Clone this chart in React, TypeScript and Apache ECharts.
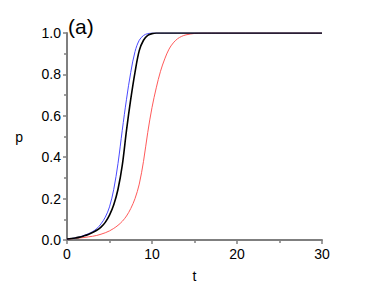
import React, { useEffect, useRef } from "react";
import * as echarts from "echarts";

const tGrid = [0, 0.5, 1, 1.5, 2, 2.5, 3, 3.5, 4, 4.5, 5, 5.5, 6, 6.5, 7, 7.5, 8, 8.5, 9, 9.5, 10, 10.5, 11, 11.5, 12, 12.5, 13, 13.5, 14, 14.5, 15, 15.5, 16, 17, 18, 20, 22, 25, 28, 30];

const pBlack = [0.005, 0.007, 0.01, 0.014, 0.02, 0.027, 0.036, 0.047, 0.062, 0.085, 0.12, 0.17, 0.245, 0.36, 0.53, 0.68, 0.81, 0.915, 0.965, 0.988, 0.997, 1, 1, 1, 1, 1, 1, 1, 1, 1, 1, 1, 1, 1, 1, 1, 1, 1, 1, 1];

const pBlue = [0.005, 0.007, 0.01, 0.015, 0.022, 0.03, 0.04, 0.055, 0.078, 0.11, 0.16, 0.245, 0.37, 0.53, 0.68, 0.81, 0.91, 0.965, 0.988, 0.997, 1, 1, 1, 1, 1, 1, 1, 1, 1, 1, 1, 1, 1, 1, 1, 1, 1, 1, 1, 1];

const pRed = [0.005, 0.006, 0.008, 0.01, 0.012, 0.015, 0.018, 0.022, 0.028, 0.035, 0.044, 0.056, 0.071, 0.09, 0.116, 0.152, 0.2, 0.27, 0.38, 0.52, 0.64, 0.735, 0.815, 0.875, 0.922, 0.952, 0.972, 0.984, 0.991, 0.995, 0.998, 0.999, 1, 1, 1, 1, 1, 1, 1, 1];

const yTickLabels = ["0.0", "0.2", "0.4", "0.6", "0.8", "1.0"];

const pairs = (ts: number[], ps: number[]) => ts.map((t, i) => [t, ps[i]]);

const FONT = "Liberation Sans, Arial, sans-serif";
const AXIS_COLOR = "#7f7f7f";

export default function App() {
  const ref = useRef<HTMLDivElement>(null);
  useEffect(() => {
    if (!ref.current) return;
    const chart = echarts.init(ref.current, undefined, { renderer: "svg" });
    chart.setOption({
      animation: false,
      backgroundColor: "#ffffff",
      grid: { left: 67, top: 33, width: 255, height: 207, containLabel: false },
      graphic: [
        {
          type: "text",
          left: 68,
          top: 16,
          style: { text: "(a)", fontSize: 21, fontFamily: FONT, fill: "#000" },
        },
      ],
      xAxis: {
        type: "value",
        min: 0,
        max: 30,
        interval: 10,
        name: "t",
        nameLocation: "middle",
        nameGap: 29,
        nameTextStyle: { fontSize: 14, fontFamily: FONT, color: "#000" },
        axisLine: { show: true, lineStyle: { color: AXIS_COLOR, width: 2 } },
        axisTick: { show: true, inside: false, length: 4, lineStyle: { color: AXIS_COLOR, width: 1.5 } },
        minorTick: { show: true, splitNumber: 2, length: 3, lineStyle: { color: AXIS_COLOR, width: 1.5 } },
        splitLine: { show: false },
        axisLabel: { fontSize: 14, fontFamily: FONT, color: "#000", margin: 7 },
      },
      yAxis: {
        type: "value",
        min: 0,
        max: 1,
        interval: 0.2,
        name: "p",
        nameLocation: "middle",
        nameGap: 44,
        nameRotate: 0,
        nameTextStyle: { fontSize: 14, fontFamily: FONT, color: "#000" },
        axisLine: { show: true, lineStyle: { color: AXIS_COLOR, width: 2 } },
        axisTick: { show: true, inside: false, length: 4, lineStyle: { color: AXIS_COLOR, width: 1.5 } },
        minorTick: { show: true, splitNumber: 2, length: 3, lineStyle: { color: AXIS_COLOR, width: 1.5 } },
        splitLine: { show: false },
        axisLabel: {
          fontSize: 14,
          fontFamily: FONT,
          color: "#000",
          margin: 6,
          formatter: (v: number) => yTickLabels[Math.round(v * 5)] ?? v.toFixed(1),
        },
      },
      series: [
        {
          type: "line",
          data: pairs(tGrid, pRed),
          smooth: 0.35,
          showSymbol: false,
          lineStyle: { color: "#ff5a5a", width: 1 },
          z: 2,
        },
        {
          type: "line",
          data: pairs(tGrid, pBlue),
          smooth: 0.35,
          showSymbol: false,
          lineStyle: { color: "#4a4aff", width: 1 },
          z: 3,
        },
        {
          type: "line",
          data: pairs(tGrid, pBlack),
          smooth: 0.35,
          showSymbol: false,
          lineStyle: { color: "#000000", width: 1.6 },
          z: 4,
        },
      ],
    });
    return () => chart.dispose();
  }, []);
  return (
    <div
      ref={ref}
      style={{ position: "fixed", left: 0, top: 0, width: 374, height: 289, background: "#fff" }}
    />
  );
}
